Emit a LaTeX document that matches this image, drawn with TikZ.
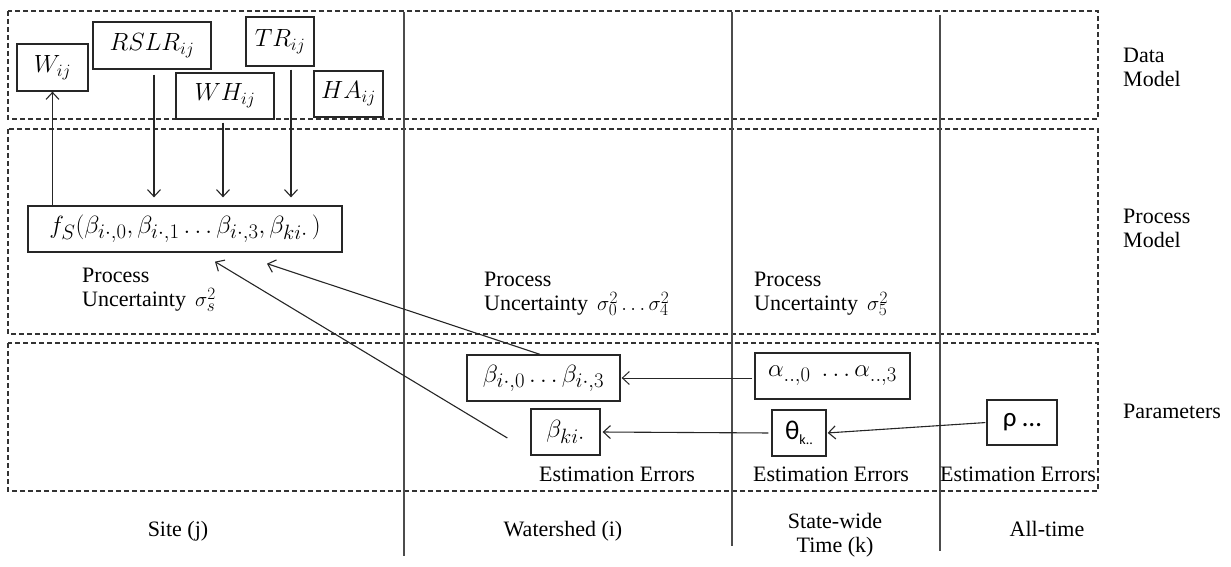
\documentclass[tikz,border=0pt]{standalone}
\usepackage{fontspec}
\setmainfont{Liberation Serif}
\newfontfamily\carl{Carlito}
\DeclareMathSizes{25}{25}{18.5}{14}
\DeclareMathSizes{27}{27}{20}{15}
\DeclareMathSizes{22}{22}{16}{12}
\usetikzlibrary{arrows.meta}
\begin{document}
\begin{tikzpicture}[x=1pt,y=-1pt,
  lay/.style={draw=black!80, dash pattern=on 5pt off 3pt, line width=1.1pt},
  sepline/.style={draw=black!70, line width=1.4pt},
  bx/.style={draw=black!85, line width=1.3pt, inner sep=0pt, font=\fontsize{25}{30}\selectfont},
  bxl/.style={bx, font=\fontsize{27}{32}\selectfont},
  lbl/.style={font=\fontsize{22}{24}\selectfont, inner sep=0pt},
  lbl2/.style={lbl, align=left, anchor=north west},
  arr/.style={draw=black!85, line width=1.1pt, -{Straight Barb[length=7pt,width=13pt]}},
]
\useasboundingbox (0,0) rectangle (1231,567);
% layers
\draw[lay] (8,11) rectangle (1098,119);
\draw[lay] (8,129) rectangle (1098,334);
\draw[lay] (8,343) rectangle (1098,491);
% column separators
\draw[sepline] (404,12) -- (404,556);
\draw[sepline] (732,12) -- (732,546);
\draw[sepline] (940,15) -- (940,551);
% data boxes
\node[bx, minimum width=71pt, minimum height=47pt] (W) at (52.5,67.5) {$W_{ij}$};
\node[bx, minimum width=118pt, minimum height=47pt] (RSLR) at (152,45.5) {$RSLR_{ij}$};
\node[bx, minimum width=98pt, minimum height=46pt] (WH) at (225,96) {$WH_{ij}$};
\node[bx, minimum width=68pt, minimum height=49pt] (TR) at (280,41.5) {$TR_{ij}$};
\node[bx, minimum width=69pt, minimum height=46pt] (HA) at (348.5,94) {$HA_{ij}$};
% process box
\node[bxl, minimum width=314pt, minimum height=46pt] (f) at (185,229)
  {$f_S(\beta_{i\cdot,0},\beta_{i\cdot,1}\ldots\beta_{i\cdot,3},\beta_{ki\cdot}\,)$};
% parameter boxes
\node[bxl, minimum width=153pt, minimum height=46pt] (bi) at (543.5,378) {$\beta_{i\cdot,0}\ldots\beta_{i\cdot,3}$};
\node[bxl, minimum width=155pt, minimum height=46pt] (al) at (832.5,376) {$\alpha_{..,0}\;\ldots\alpha_{..,3}$};
\node[bxl, minimum width=69pt, minimum height=46pt] (bki) at (565.5,432) {$\beta_{ki\cdot}$};
\node[bx, minimum width=54pt, minimum height=46pt] (th) at (799,433) {{\carl\fontsize{27}{30}\selectfont θ\raisebox{-0.35ex}{\fontsize{14}{15}\selectfont k..}}};
\node[bx, minimum width=70pt, minimum height=45pt] (rho) at (1022,422.5) {{\carl\fontsize{27}{30}\selectfont ρ …}};
% arrows in data / process
\draw[arr] (W.south |- f.north) -- (W.south);
\draw[arr, shorten <=5pt, shorten >=8pt] ([xshift=2pt]RSLR.south) -- ([xshift=2pt]RSLR.south |- f.north);
\draw[arr, shorten <=3pt, shorten >=8pt] ([xshift=-2pt]WH.south) -- ([xshift=-2pt]WH.south |- f.north);
\draw[arr, shorten <=3pt, shorten >=8pt] ([xshift=11pt]TR.south) -- ([xshift=11pt]TR.south |- f.north);
% arrows from parameters
\draw[arr] ([xshift=-3.5pt]bi.north) -- ([xshift=82pt,yshift=-11pt]f.south);
\draw[arr] ([xshift=-23pt,yshift=-6pt]bki.west) -- ([xshift=30pt,yshift=-9pt]f.south);
\draw[arr, line width=1pt, shorten <=2pt, shorten >=1pt] (al.west |- bi.east) -- (bi.east);
\draw[arr, shorten <=3pt, shorten >=2pt] (th.west) -- (bki.east);
\draw[arr, shorten <=1pt, shorten >=1pt] (rho.west) -- (th.east);
% text labels
\node[lbl2] (pu1) at (82,268) {Process\\Uncertainty\, $\sigma_s^2$};
\node[lbl2] (pu2) at (484,272) {Process\\Uncertainty\, $\sigma_0^2\ldots\sigma_4^2$};
\node[lbl2] (pu3) at (754,272) {Process\\Uncertainty\, $\sigma_5^2$};
\node[lbl, anchor=base] (ee1) at (617,481) {Estimation Errors};
\node[lbl, anchor=base] (ee2) at (831,481) {Estimation Errors};
\node[lbl, anchor=base] (ee3) at (1018,481) {Estimation Errors};
% right labels
\node[lbl2] (dm) at (1123,48) {Data\\Model};
\node[lbl2] (pm) at (1123,209) {Process\\Model};
\node[lbl, anchor=base west] (par) at (1123,418) {Parameters};
% bottom labels
\node[lbl, anchor=base] (c1) at (178,536) {Site (j)};
\node[lbl, anchor=base] (c2) at (563,536) {Watershed (i)};
\node[lbl, align=center, anchor=north] (c3) at (835,513) {State-wide\\Time (k)};
\node[lbl, anchor=base] (c4) at (1047,536) {All-time};
\end{tikzpicture}
\end{document}
